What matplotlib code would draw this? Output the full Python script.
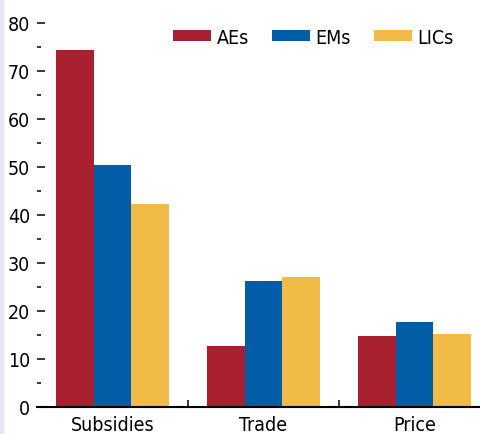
import numpy as np
import matplotlib
matplotlib.use('Agg')
import matplotlib.pyplot as plt
from matplotlib.patches import Rectangle

plt.rcParams['font.family'] = ['DejaVu Sans']
plt.rcParams['font.stretch'] = 'condensed'

# Data.
categories = ['Subsidies', 'Trade', 'Price']
series = ['AEs', 'EMs', 'LICs']
aes = [74.4, 12.7, 14.8]
ems = [50.4, 26.2, 17.7]
lics = [42.3, 27.1, 15.2]
colors = ['#A81F30', '#035DA6', '#F2BB48']

W, H = 481, 435
fig = plt.figure(figsize=(W / 100, H / 100), dpi=100)
ax = fig.add_axes([37 / W, 27 / H, (W - 37) / W, (408 - 24) / H])

# Thin tinted strip on the left edge.
fig.patches.append(Rectangle((0, 0), 2.5 / W, 1, transform=fig.transFigure,
                             color='#E3E6F5', zorder=0))

x = np.arange(len(categories))
width = 0.25
for i, (vals, lab) in enumerate(zip([aes, ems, lics], series)):
    ax.bar(x + (i - 1) * width, vals, width, color=colors[i], label=lab,
           linewidth=0)

ax.set_xlim(-0.5, 2.44)
ax.set_ylim(0, 80)

for s in ['top', 'right', 'left']:
    ax.spines[s].set_visible(False)
ax.spines['bottom'].set_linewidth(1.5)

# y ticks: labelled every 10, short dashes in between
ax.set_yticks(np.arange(0, 81, 10))
ax.set_yticks(np.arange(5, 80, 10), minor=True)
ax.tick_params(axis='y', which='major', direction='in', length=5.5, width=1.1,
               pad=5, labelsize=14)
ax.tick_params(axis='y', which='minor', direction='in', length=2.8, width=1.1)

# x: category labels, separator ticks between groups
ax.set_xticks(x)
ax.set_xticklabels(categories)
ax.set_xticks([0.5, 1.5], minor=True)
ax.tick_params(axis='x', which='major', length=0, pad=5.5, labelsize=14)
ax.tick_params(axis='x', which='minor', direction='in', length=5, width=1.1)

ax.legend(loc='center left', bbox_to_anchor=(173 / W, 1 - 38 / H),
          bbox_transform=fig.transFigure, ncol=3, frameon=False,
          fontsize=14, handlelength=1.95, handleheight=0.47,
          handletextpad=0.28, columnspacing=1.2, borderpad=0,
          borderaxespad=0)

fig.savefig('out.png', dpi=100)
